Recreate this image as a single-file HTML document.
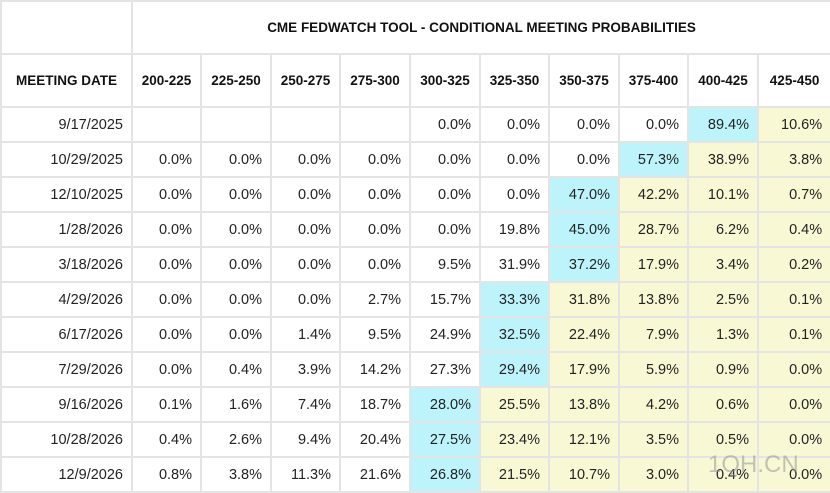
<!DOCTYPE html>
<html><head><meta charset="utf-8"><style>
html,body{margin:0;padding:0;background:#fff;}
body{width:830px;height:493px;overflow:hidden;position:relative;font-family:"Liberation Sans",Arial,sans-serif;}
table{border-collapse:collapse;table-layout:fixed;width:830px;position:absolute;left:0;top:0;}
td{border:2px solid #e4e4e4;padding:0 8px 0 0;text-align:right;font-size:14.5px;color:#222;height:33px;white-space:nowrap;overflow:hidden;}
tr.h td{font-weight:bold;font-size:13.5px;text-align:center;padding:0;height:51px;color:#111;}
td.b{background:#bdf4fc;}
td.y{background:#f8f8d4;}
.wm{position:absolute;left:708px;top:451px;font-size:24px;color:rgba(150,150,150,0.55);}
</style></head><body>
<table>
<colgroup><col style="width:131px"><col style="width:69px"><col style="width:70px"><col style="width:69px"><col style="width:70px"><col style="width:70px"><col style="width:69px"><col style="width:70px"><col style="width:69px"><col style="width:70px"><col style="width:73px"></colgroup>
<tr class="h"><td></td><td colspan="10">CME FEDWATCH TOOL - CONDITIONAL MEETING PROBABILITIES</td></tr>
<tr class="h"><td>MEETING DATE</td><td>200-225</td><td>225-250</td><td>250-275</td><td>275-300</td><td>300-325</td><td>325-350</td><td>350-375</td><td>375-400</td><td>400-425</td><td>425-450</td></tr>
<tr><td>9/17/2025</td><td></td><td></td><td></td><td></td><td>0.0%</td><td>0.0%</td><td>0.0%</td><td>0.0%</td><td class="b">89.4%</td><td class="y">10.6%</td></tr>
<tr><td>10/29/2025</td><td>0.0%</td><td>0.0%</td><td>0.0%</td><td>0.0%</td><td>0.0%</td><td>0.0%</td><td>0.0%</td><td class="b">57.3%</td><td class="y">38.9%</td><td class="y">3.8%</td></tr>
<tr><td>12/10/2025</td><td>0.0%</td><td>0.0%</td><td>0.0%</td><td>0.0%</td><td>0.0%</td><td>0.0%</td><td class="b">47.0%</td><td class="y">42.2%</td><td class="y">10.1%</td><td class="y">0.7%</td></tr>
<tr><td>1/28/2026</td><td>0.0%</td><td>0.0%</td><td>0.0%</td><td>0.0%</td><td>0.0%</td><td>19.8%</td><td class="b">45.0%</td><td class="y">28.7%</td><td class="y">6.2%</td><td class="y">0.4%</td></tr>
<tr><td>3/18/2026</td><td>0.0%</td><td>0.0%</td><td>0.0%</td><td>0.0%</td><td>9.5%</td><td>31.9%</td><td class="b">37.2%</td><td class="y">17.9%</td><td class="y">3.4%</td><td class="y">0.2%</td></tr>
<tr><td>4/29/2026</td><td>0.0%</td><td>0.0%</td><td>0.0%</td><td>2.7%</td><td>15.7%</td><td class="b">33.3%</td><td class="y">31.8%</td><td class="y">13.8%</td><td class="y">2.5%</td><td class="y">0.1%</td></tr>
<tr><td>6/17/2026</td><td>0.0%</td><td>0.0%</td><td>1.4%</td><td>9.5%</td><td>24.9%</td><td class="b">32.5%</td><td class="y">22.4%</td><td class="y">7.9%</td><td class="y">1.3%</td><td class="y">0.1%</td></tr>
<tr><td>7/29/2026</td><td>0.0%</td><td>0.4%</td><td>3.9%</td><td>14.2%</td><td>27.3%</td><td class="b">29.4%</td><td class="y">17.9%</td><td class="y">5.9%</td><td class="y">0.9%</td><td class="y">0.0%</td></tr>
<tr><td>9/16/2026</td><td>0.1%</td><td>1.6%</td><td>7.4%</td><td>18.7%</td><td class="b">28.0%</td><td class="y">25.5%</td><td class="y">13.8%</td><td class="y">4.2%</td><td class="y">0.6%</td><td class="y">0.0%</td></tr>
<tr><td>10/28/2026</td><td>0.4%</td><td>2.6%</td><td>9.4%</td><td>20.4%</td><td class="b">27.5%</td><td class="y">23.4%</td><td class="y">12.1%</td><td class="y">3.5%</td><td class="y">0.5%</td><td class="y">0.0%</td></tr>
<tr><td>12/9/2026</td><td>0.8%</td><td>3.8%</td><td>11.3%</td><td>21.6%</td><td class="b">26.8%</td><td class="y">21.5%</td><td class="y">10.7%</td><td class="y">3.0%</td><td class="y">0.4%</td><td class="y">0.0%</td></tr>
</table>
<div class="wm">1QH.CN</div>
</body></html>
